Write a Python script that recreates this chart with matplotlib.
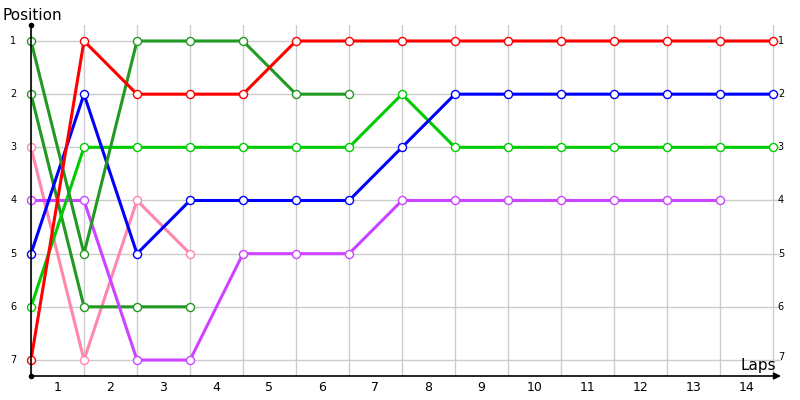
import matplotlib
matplotlib.use("Agg")
import matplotlib.pyplot as plt

# positions per lap index (0 = start)
red = [7, 1, 2, 2, 2, 1, 1, 1, 1, 1, 1, 1, 1, 1, 1]
blue = [5, 2, 5, 4, 4, 4, 4, 3, 2, 2, 2, 2, 2, 2, 2]
lime = [6, 3, 3, 3, 3, 3, 3, 2, 3, 3, 3, 3, 3, 3, 3]
dkgreen_a = [1, 5, 1, 1, 1, 2, 2]
dkgreen_b = [2, 6, 6, 6]
pink = [3, 7, 4, 5]
purple = [4, 4, 7, 7, 5, 5, 5, 4, 4, 4, 4, 4, 4, 4]

lap_labels = [str(i) for i in range(1, 15)]
positions = [1, 2, 3, 4, 5, 6, 7]

series = [
    (pink, "#ff88aa"),
    (dkgreen_b, "#229922"),
    (purple, "#cc44ff"),
    (lime, "#00cc00"),
    (blue, "#0000ff"),
    (dkgreen_a, "#229922"),
    (red, "#ff0000"),
]

fig = plt.figure(figsize=(8, 4), dpi=100)
ax = fig.add_axes([31 / 800, 24 / 400, 750 / 800, 351 / 400])

x_end = 14 + 8 / 53
y_bot = 7 + 16 / 53.2
y_top = 1 - 16 / 53.2
ax.set_xlim(0, x_end)
ax.set_ylim(y_bot, y_top)

# grid
for i in range(15):
    ax.axvline(i, color="#cccccc", lw=1, zorder=0)
for p in positions:
    ax.axhline(p, color="#cccccc", lw=1, zorder=0)

for vals, col in series:
    ax.plot(range(len(vals)), vals, color=col, lw=2.2, marker="o",
            markersize=5.8, markerfacecolor="white", markeredgecolor=col,
            markeredgewidth=1, zorder=3, clip_on=False)

for s in ["top", "right", "bottom", "left"]:
    ax.spines[s].set_visible(False)

# axis lines with arrows
ax.annotate("", xy=(x_end, y_bot), xytext=(0, y_bot),
            arrowprops=dict(arrowstyle="-|>", color="black", lw=1.2,
                            mutation_scale=10, shrinkA=0, shrinkB=0),
            annotation_clip=False)
ax.plot([0, 0], [y_bot, y_top], color="black", lw=1.2, clip_on=False, zorder=4)
ax.plot([0], [y_top], "o", color="black", markersize=3, clip_on=False, zorder=4)
ax.plot([0], [y_bot], "o", color="black", markersize=3, clip_on=False, zorder=4)

ax.set_xticks([])
ax.set_yticks([])

for i, lab in enumerate(lap_labels):
    ax.text(i + 0.5, 7.52, lab, ha="center", va="center", fontsize=9)
for p in positions:
    ax.text(-0.33, p, str(p), ha="center", va="center", fontsize=7)
    ax.text(14.09, p if p != 7 else p - 0.06, str(p), ha="left",
            va="center", fontsize=7, zorder=5)

fig.text(3 / 800, 1 - 15 / 400, "Position", ha="left", va="center", fontsize=11)
ax.text(13.72, 7.1, "Laps", ha="center", va="center", fontsize=11)

fig.savefig("out.png", dpi=100)
